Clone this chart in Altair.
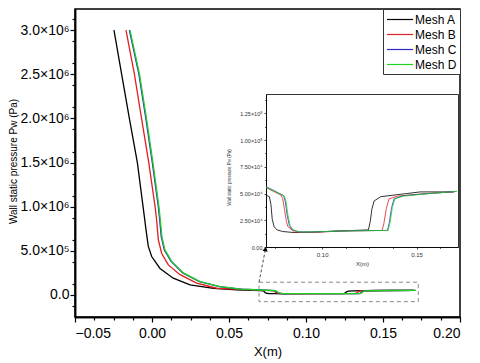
import json
import altair as alt
import pandas as pd

# ---------------- data ----------------
meshes = ["Mesh A", "Mesh B", "Mesh C", "Mesh D"]
colors = ["#000000", "#e0201c", "#2a2ad0", "#1ed21e"]

mesh_a_x = [-0.0247, -0.0197, -0.0147, -0.0095, -0.0058, -0.0039, -0.0024, -0.0002, 0.0052, 0.0138, 0.0247,
            0.040, 0.055, 0.0702, 0.0720, 0.0728, 0.0735, 0.0745, 0.0760, 0.0790, 0.0850, 0.0950, 0.1100,
            0.1245, 0.1255, 0.1263, 0.1275, 0.1310, 0.1450, 0.1520, 0.1699]
mesh_a_p = [3.0e6, 2.5e6, 2.0e6, 1.5e6, 1.0e6, 7.4e5, 5.5e5, 4.35e5, 3.0e5, 1.9e5, 1.14e5,
            7.5e4, 5.8e4, 4.85e4, 4.7e4, 4.0e4, 2.6e4, 1.9e4, 1.6e4, 1.45e4, 1.35e4, 1.4e4, 1.5e4,
            1.6e4, 2.4e4, 3.5e4, 4.3e4, 4.7e4, 5.0e4, 5.15e4, 5.15e4]

mesh_b_x = [-0.0169, -0.0114, -0.0068, -0.0021, 0.0020, 0.0030, 0.0041, 0.0063, 0.0106, 0.0182, 0.0290,
            0.0420, 0.0580, 0.0702, 0.0782, 0.0791, 0.0800, 0.0810, 0.0818, 0.0854, 0.0950, 0.1100,
            0.1318, 0.1327, 0.1340, 0.1354, 0.1400, 0.1550, 0.1700]
mesh_b_p = [3.0e6, 2.5e6, 2.0e6, 1.5e6, 1.0e6, 8.5e5, 6.25e5, 4.7e5, 3.4e5, 2.3e5, 1.33e5,
            7.6e4, 6.2e4, 5.55e4, 4.85e4, 4.5e4, 3.5e4, 2.4e4, 1.9e4, 1.4e4, 1.35e4, 1.5e4,
            1.55e4, 2.2e4, 3.6e4, 4.5e4, 4.75e4, 5.0e4, 5.15e4]

mesh_c_x = [-0.0147, -0.0085, -0.0040, 0.0002, 0.0041, 0.0050, 0.0060, 0.0080, 0.0124, 0.0199, 0.0308,
            0.0438, 0.0578, 0.0702, 0.0796, 0.0805, 0.0814, 0.0826, 0.0841, 0.0880, 0.0950, 0.1100,
            0.1346, 0.1356, 0.1368, 0.1381, 0.1430, 0.1570, 0.1712]
mesh_c_p = [3.0e6, 2.5e6, 2.0e6, 1.5e6, 1.0e6, 8.5e5, 6.6e5, 5.1e5, 3.8e5, 2.5e5, 1.5e5,
            9.4e4, 6.5e4, 5.65e4, 4.8e4, 4.2e4, 3.0e4, 2.0e4, 1.6e4, 1.4e4, 1.4e4, 1.5e4,
            1.55e4, 2.3e4, 3.7e4, 4.5e4, 4.8e4, 5.0e4, 5.2e4]

mesh_d_x = [-0.0143, -0.0081, -0.0036, 0.0006, 0.0045, 0.0054, 0.0064, 0.0084, 0.0128, 0.0203, 0.0312,
            0.0442, 0.0580, 0.0702, 0.0800, 0.0809, 0.0818, 0.0830, 0.0845, 0.0880, 0.0950, 0.1100,
            0.1350, 0.1360, 0.1372, 0.1385, 0.1430, 0.1570, 0.1715]
mesh_d_p = [3.0e6, 2.5e6, 2.0e6, 1.5e6, 1.0e6, 8.5e5, 6.6e5, 5.1e5, 3.8e5, 2.5e5, 1.5e5,
            9.4e4, 6.5e4, 5.6e4, 4.75e4, 4.2e4, 3.0e4, 2.0e4, 1.6e4, 1.4e4, 1.4e4, 1.5e4,
            1.55e4, 2.3e4, 3.7e4, 4.5e4, 4.75e4, 5.0e4, 5.2e4]

# main axes
x_domain = [-0.05, 0.20]
y_domain = [-2.5e5, 3.24e6]
x_major = [-0.05, 0.0, 0.05, 0.10, 0.15, 0.20]
x_minor = [-0.0375, -0.025, -0.0125, 0.0125, 0.025, 0.0375, 0.0625, 0.075, 0.0875,
           0.1125, 0.125, 0.1375, 0.1625, 0.175, 0.1875]
y_major = [0, 5e5, 1e6, 1.5e6, 2e6, 2.5e6, 3e6]
y_major_labels = ["0.0", "5.0×10⁵", "1.0×10⁶", "1.5×10⁶", "2.0×10⁶", "2.5×10⁶", "3.0×10⁶"]
y_minor = [-1.25e5, 1.25e5, 3.75e5, 6.25e5, 8.75e5, 1.125e6, 1.375e6, 1.625e6, 1.875e6,
           2.125e6, 2.375e6, 2.625e6, 2.875e6, 3.125e6]

# zoom box, connector
box_x = [0.0695, 0.1729]
box_p = [-7.6e4, 1.44e5]
conn_x = [0.0695, 0.0737]
conn_p = [1.44e5, 5.2e5]

# inset axes
inset_x_domain = [0.0702, 0.172]
inset_y_domain = [0, 1.43e5]
inset_x_major = [0.10, 0.15]
inset_x_minor = [0.075, 0.0875, 0.1125, 0.125, 0.1375, 0.1625]
inset_y_major = [0, 2.5e4, 5e4, 7.5e4, 1e5, 1.25e5]
inset_y_labels = ["0.00", "2.50×10⁴", "5.00×10⁴", "7.50×10⁴", "1.00×10⁵", "1.25×10⁵"]
inset_y_minor = [1.25e4, 3.75e4, 6.25e4, 8.75e4, 1.125e5, 1.375e5]

# ---------------- build tables ----------------
rows = []
for name, xs, ps in [("Mesh A", mesh_a_x, mesh_a_p), ("Mesh B", mesh_b_x, mesh_b_p),
                     ("Mesh C", mesh_c_x, mesh_c_p), ("Mesh D", mesh_d_x, mesh_d_p)]:
    for i, (xv, pv) in enumerate(zip(xs, ps)):
        rows.append({"x": xv, "p": pv, "mesh": name, "i": i})
df = pd.DataFrame(rows)
df_inset = df[df["x"] >= inset_x_domain[0]].copy()

box_df = pd.DataFrame({"x": [box_x[0]], "x2": [box_x[1]], "p": [box_p[0]], "p2": [box_p[1]]})
conn_df = pd.DataFrame({"x": conn_x, "p": conn_p})
arrow_df = pd.DataFrame({"x": [conn_x[1]], "p": [conn_p[1]]})

W, H = 385, 308
INSET_RANGE_X = [191, 383]
INSET_RANGE_Y = [238, 85]
FONT = "Liberation Sans"

xs_main = alt.Scale(domain=x_domain, nice=False, zero=False)
ys_main = alt.Scale(domain=y_domain, nice=False, zero=False)
xs_in = alt.Scale(domain=inset_x_domain, range=INSET_RANGE_X, nice=False, zero=False)
ys_in = alt.Scale(domain=inset_y_domain, range=INSET_RANGE_Y, nice=False, zero=False)
color_scale = alt.Scale(domain=meshes, range=colors)

y_label_expr = json.dumps(y_major_labels, ensure_ascii=False) + "[round(datum.value/500000)]"
in_y_label_expr = json.dumps(inset_y_labels, ensure_ascii=False) + "[round(datum.value/25000)]"

main_x_axis = alt.Axis(orient="bottom", values=x_major,
                       labelExpr="replace(format(datum.value, '.2f'), '-', '−')",
                       labelFontSize=14, labelPadding=4, tickSize=5, tickWidth=1.2,
                       domainWidth=1.5, title="X(m)", titleFontSize=13, titleY=38,
                       titleBaseline="alphabetic")
main_y_axis = alt.Axis(orient="left", values=y_major, labelExpr=y_label_expr,
                       labelFontSize=14, labelPadding=1, tickSize=5, tickWidth=1.2,
                       domainWidth=1.5, title="Wall static pressure Pw (Pa)", titleFontSize=10,
                       titleX=-62, titleY=152, titleBaseline="middle")
minor_x_axis = alt.Axis(orient="bottom", values=x_minor, labels=False, tickSize=3, tickWidth=1.2,
                        domainWidth=1.5, title="")
minor_y_axis = alt.Axis(orient="left", values=y_minor, labels=False, tickSize=3, tickWidth=1.2,
                        domainWidth=1.5, title="")

in_x_axis = alt.Axis(orient="bottom", offset=-(H - INSET_RANGE_Y[0]), values=inset_x_major,
                     format=".2f", labelFontSize=6, labelPadding=2, labelColor="#333",
                     tickSize=2, tickWidth=0.7, domainWidth=0.8, title="X(m)", titleFontSize=6,
                     titleColor="#333", titleY=18, titleBaseline="alphabetic")
in_y_axis = alt.Axis(orient="left", offset=-INSET_RANGE_X[0], values=inset_y_major,
                     labelExpr=in_y_label_expr, labelFontSize=5.5, labelPadding=2, labelColor="#333",
                     tickSize=2, tickWidth=0.7, domainWidth=0.8,
                     title="Wall static pressure Pw (Pa)", titleFontSize=4.5, titleColor="#333",
                     titleX=-37, titleY=168, titleBaseline="middle")
in_x_minor = alt.Axis(orient="bottom", offset=-(H - INSET_RANGE_Y[0]), values=inset_x_minor,
                      labels=False, tickSize=1.5, tickWidth=0.6, domainWidth=0.8, title="")
in_y_minor = alt.Axis(orient="left", offset=-INSET_RANGE_X[0], values=inset_y_minor,
                      labels=False, tickSize=1.5, tickWidth=0.6, domainWidth=0.8, title="")
in_top = alt.Axis(orient="top", offset=-INSET_RANGE_Y[1], values=[], labels=False, ticks=False,
                  domainWidth=0.8, title="")
in_right = alt.Axis(orient="right", offset=-(W - INSET_RANGE_X[1]), values=[], labels=False,
                    ticks=False, domainWidth=0.8, title="")

legend = alt.Legend(title=None, orient="top-right", offset=0, padding=3, strokeColor="#333",
                    fillColor="white", symbolType="M-1,0H3", symbolSize=170, symbolStrokeWidth=1.2,
                    labelFontSize=12, labelOffset=14, rowPadding=1, labelFont=FONT)

main_lines = alt.Chart(df).mark_line(strokeWidth=1.3).encode(
    x=alt.X("x:Q", scale=xs_main, axis=main_x_axis),
    y=alt.Y("p:Q", scale=ys_main, axis=main_y_axis),
    color=alt.Color("mesh:N", scale=color_scale, legend=legend),
    order=alt.Order("i:Q"),
)
minor_ticks = alt.Chart(df).mark_point(opacity=0).encode(
    x=alt.X("x:Q", scale=xs_main, axis=minor_x_axis),
    y=alt.Y("p:Q", scale=ys_main, axis=minor_y_axis),
)
box = alt.Chart(box_df).mark_rect(fillOpacity=0, stroke="#8a8a8a", strokeWidth=1,
                                  strokeDash=[4, 3]).encode(
    x=alt.X("x:Q", scale=xs_main, axis=None), x2="x2:Q",
    y=alt.Y("p:Q", scale=ys_main, axis=None), y2="p2:Q",
)
connector = alt.Chart(conn_df).mark_line(color="#222", strokeWidth=0.8, strokeDash=[3, 2]).encode(
    x=alt.X("x:Q", scale=xs_main, axis=None),
    y=alt.Y("p:Q", scale=ys_main, axis=None),
)
arrow = alt.Chart(arrow_df).mark_point(shape="triangle-up", filled=True, color="black", size=28,
                                       angle=10, opacity=1).encode(
    x=alt.X("x:Q", scale=xs_main, axis=None),
    y=alt.Y("p:Q", scale=ys_main, axis=None),
)
inset_lines = alt.Chart(df_inset).mark_line(strokeWidth=0.8).encode(
    x=alt.X("x:Q", scale=xs_in, axis=in_x_axis),
    y=alt.Y("p:Q", scale=ys_in, axis=in_y_axis),
    color=alt.Color("mesh:N", scale=color_scale, legend=None),
    order=alt.Order("i:Q"),
)
inset_minor = alt.Chart(df_inset).mark_point(opacity=0).encode(
    x=alt.X("x:Q", scale=xs_in, axis=in_x_minor),
    y=alt.Y("p:Q", scale=ys_in, axis=in_y_minor),
)
inset_frame = alt.Chart(df_inset).mark_point(opacity=0).encode(
    x=alt.X("x:Q", scale=xs_in, axis=in_top),
    y=alt.Y("p:Q", scale=ys_in, axis=in_right),
)

chart = alt.layer(
    minor_ticks, box, connector, arrow, inset_minor, inset_frame, inset_lines, main_lines
).resolve_scale(
    x="independent", y="independent", color="independent"
).properties(
    width=W, height=H, autosize=alt.AutoSizeParams(type="none"),
    padding={"left": 67, "top": 1, "right": 4, "bottom": 46},
    background="white",
).configure_view(
    stroke="black", strokeWidth=1.5
).configure_axis(
    grid=False, domainColor="black", tickColor="black", labelColor="black", titleColor="black",
    labelFont=FONT, titleFont=FONT, titleFontWeight="normal"
).configure_legend(
    labelFont=FONT
)

chart.save("out.html", embed_options={"renderer": "svg", "actions": False})
